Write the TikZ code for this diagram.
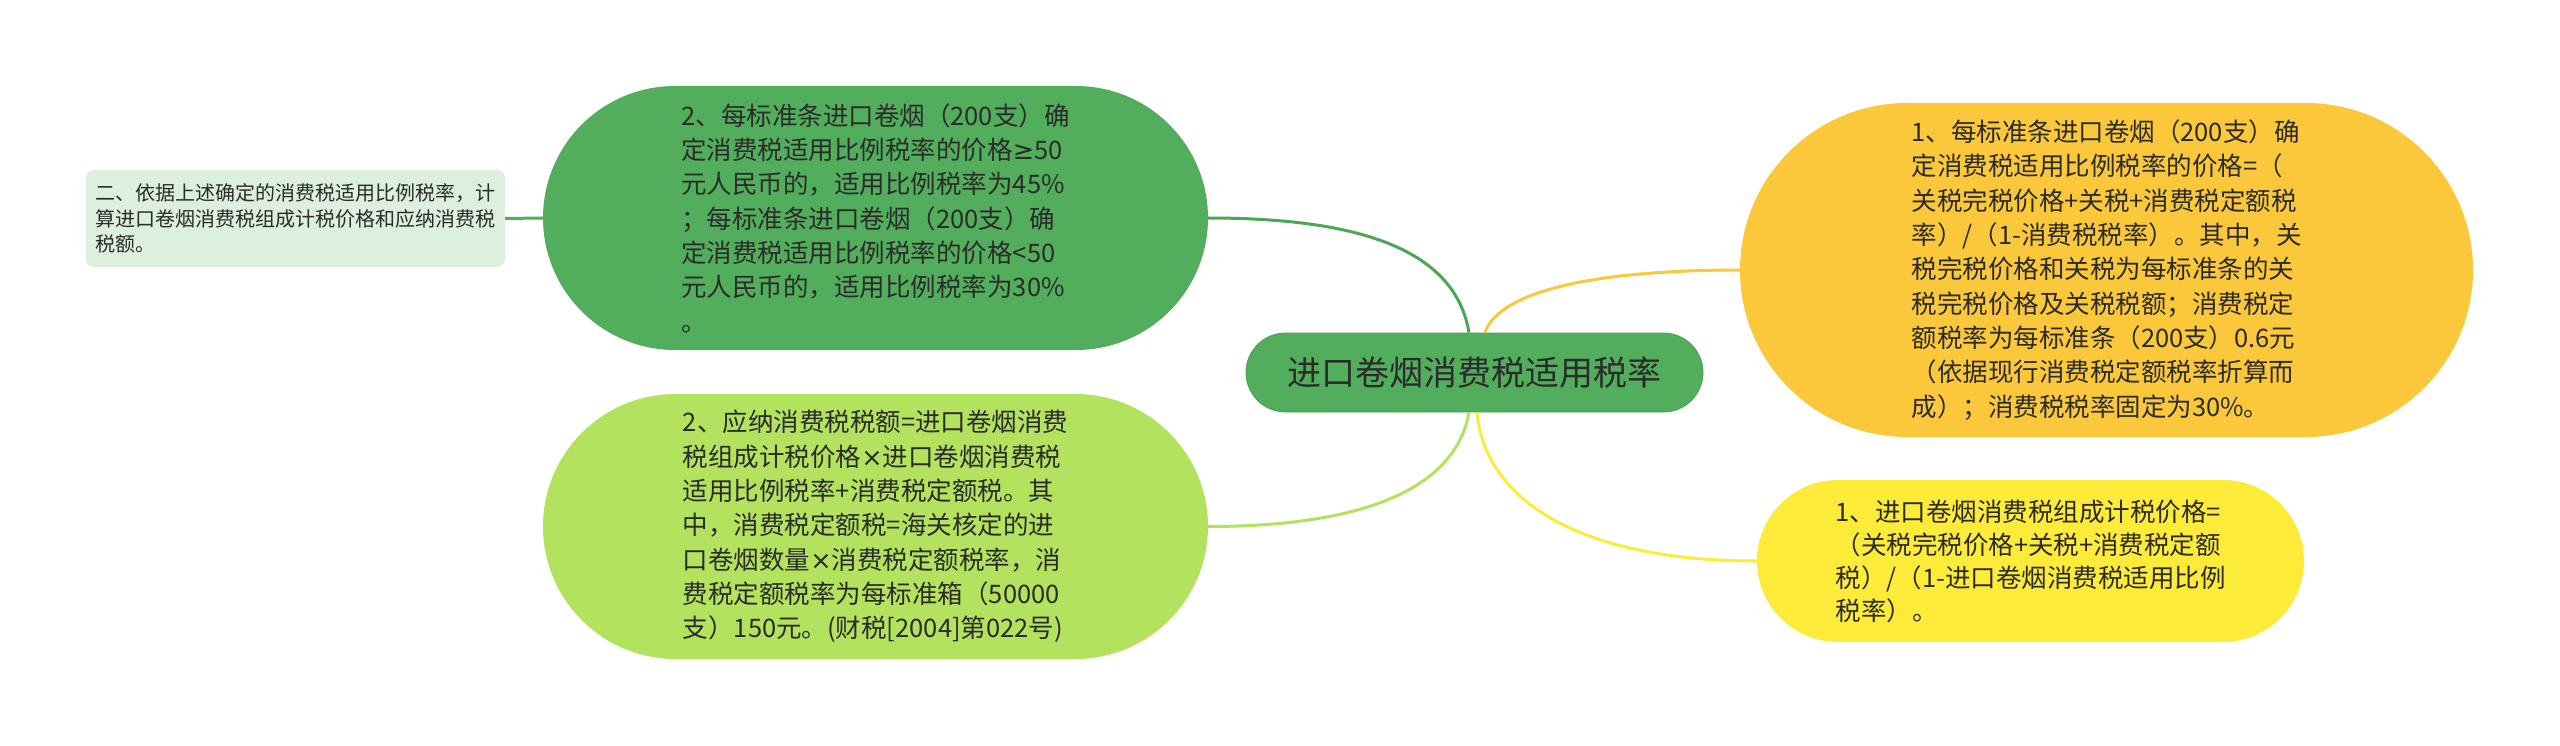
\documentclass[tikz,border=0pt]{standalone}
\usepackage{fontspec}
\setmainfont{Noto Sans CJK SC}
\newfontfamily\symfont{DejaVu Sans}
\usepackage{xcolor}
\usetikzlibrary{positioning}

\definecolor{rootgreen}{HTML}{52AE5C}
\definecolor{limegreen}{HTML}{B3E25F}
\definecolor{palegreen}{HTML}{DDEFDD}
\definecolor{amber}{HTML}{FBC83C}
\definecolor{lemon}{HTML}{FDEB3A}
\definecolor{inkgray}{HTML}{2B2B2B}

\newcommand{\atleast}{{\symfont ≥}}
\newcommand{\timesop}{{\symfont ×}}

\begin{document}
\begin{tikzpicture}[x=1pt, y=-1pt,
  pill/.style={rectangle, rounded corners=#1, inner sep=0pt, align=left, text=inkgray,
    font=\fontsize{25.5}{34.3}\selectfont},
  note/.style={rectangle, rounded corners=8pt, inner sep=0pt, align=left, text=inkgray,
    fill=palegreen, font=\fontsize{20}{25.5}\selectfont},
  link/.style={line width=3pt, draw=#1}
]
  \useasboundingbox (0,0) rectangle (2560,746);

  \node[pill=39.5pt, fill=rootgreen, draw=rootgreen!90!black, line width=0.8pt,
    minimum width=457pt, minimum height=79pt, font=\fontsize{34}{40}\selectfont] (root) at (1474.5,372.5) {进口卷烟消费税适用税率};

  \node[pill=132pt, fill=rootgreen, minimum width=665pt, minimum height=264pt] (rateA) at (875.5,218) {2、每标准条进口卷烟（200支）确\\定消费税适用比例税率的价格\atleast{}50\\元人民币的，适用比例税率为45\%\\；每标准条进口卷烟（200支）确\\定消费税适用比例税率的价格<50\\元人民币的，适用比例税率为30\%\\。};
  \node[pill=132.5pt, fill=limegreen, minimum width=665pt, minimum height=265pt] (taxB) at (875.5,526.5) {2、应纳消费税税额=进口卷烟消费\\税组成计税价格\timesop{}进口卷烟消费税\\适用比例税率+消费税定额税。其\\中，消费税定额税=海关核定的进\\口卷烟数量\timesop{}消费税定额税率，消\\费税定额税率为每标准箱（50000\\支）150元。(财税[2004]第022号)};
  \node[note, minimum width=419pt, minimum height=97pt] (step2) at (295.5,218.5) {二、依据上述确定的消费税适用比例税率，计\\算进口卷烟消费税组成计税价格和应纳消费税\\税额。};

  \node[pill=167pt, fill=amber, minimum width=733pt, minimum height=334pt] (rateB) at (2106.5,270) {1、每标准条进口卷烟（200支）确\\定消费税适用比例税率的价格=（\\关税完税价格+关税+消费税定额税\\率）/（1-消费税税率）。其中，关\\税完税价格和关税为每标准条的关\\税完税价格及关税税额；消费税定\\额税率为每标准条（200支）0.6元\\（依据现行消费税定额税率折算而\\成）；消费税税率固定为30\%。};
  \node[pill=81pt, fill=lemon, minimum width=547pt, minimum height=162pt,
    font=\fontsize{25.5}{33}\selectfont] (taxA) at (2030.5,561) {1、进口卷烟消费税组成计税价格=\\（关税完税价格+关税+消费税定额\\税）/（1-进口卷烟消费税适用比例\\税率）。};

  % branches from the root
  \draw[link=rootgreen!95!black] ([xshift=-5.5pt]root.north) .. controls +(-14,-83) and +(152,0) .. (rateA.east);
  \draw[link=limegreen] ([xshift=-5.5pt]root.south) .. controls +(-14,78) and +(152,0) .. (taxB.east);
  \draw[link=amber] ([xshift=10.5pt]root.north) .. controls +(15,-43) and +(-140,0) .. (rateB.west);
  \draw[link=lemon] ([xshift=2.5pt]root.south) .. controls +(8,88) and +(-177,0) .. (taxA.west);
  \draw[link=rootgreen] (step2.east) -- (rateA.west);
\end{tikzpicture}
\end{document}
